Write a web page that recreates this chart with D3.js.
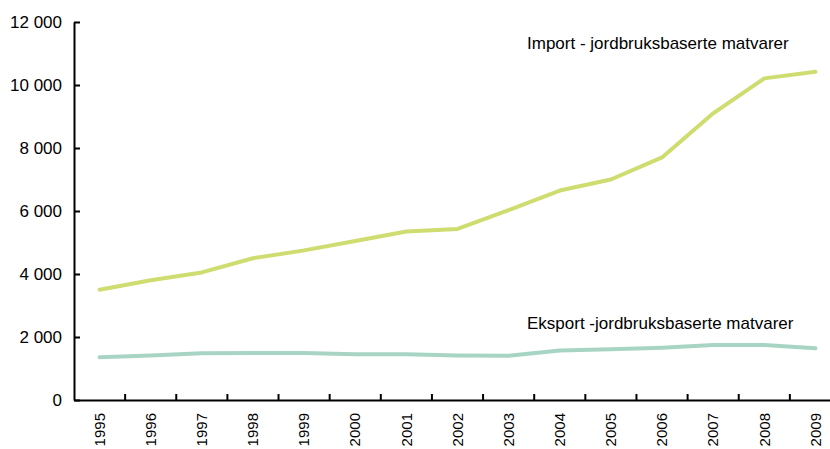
<!DOCTYPE html>
<html><head><meta charset="utf-8">
<script src="https://cdn.jsdelivr.net/npm/d3@7"></script>
<style>body{margin:0;background:#fff}svg{display:block}text{font-family:"Liberation Sans",Arial,sans-serif;fill:#000}</style>
</head><body><svg id="c" width="830" height="449"></svg>
<script>
const years = ["1995","1996","1997","1998","1999","2000","2001","2002","2003","2004","2005","2006","2007","2008","2009"];
const importValues = [3500,3800,4050,4500,4750,5050,5350,5430,6030,6650,7000,7700,9100,10210,10420];
const exportValues = [1360,1410,1485,1490,1490,1450,1450,1410,1405,1570,1610,1660,1745,1745,1645];
const yTicks = [0,2000,4000,6000,8000,10000,12000];
const seriesNames = ["Import - jordbruksbaserte matvarer","Eksport -jordbruksbaserte matvarer"];

const svg = d3.select("#c");
const x = d3.scaleBand().domain(years).range([74, 841]);
const y = d3.scaleLinear().domain([0,12000]).range([400, 22]);
const fmt = v => d3.format(",")(v).replace(/,/g, " ");

// y axis
const ya = svg.append("g").attr("transform","translate(74,0)")
  .call(d3.axisLeft(y).tickValues(yTicks).tickSize(-6).tickSizeOuter(0).tickPadding(12).tickFormat(fmt));
ya.attr("font-size",null).attr("font-family",null);
ya.select(".domain").attr("stroke","#000").attr("stroke-width",2);
ya.selectAll(".tick line").attr("stroke","#000").attr("stroke-width",2);
ya.selectAll("text").style("font-size","17px");

// x axis
const xa = svg.append("g").attr("transform","translate(0,400)")
  .call(d3.axisBottom(x).tickSize(0).tickSizeOuter(0));
xa.attr("font-size",null).attr("font-family",null);
xa.select(".domain").attr("stroke","#000").attr("stroke-width",2);
xa.selectAll("text").style("font-size","15px")
  .attr("transform","rotate(-90)").attr("text-anchor","end").attr("x",-13).attr("y",0).attr("dy","0.35em");
// tick marks between categories
const bounds = years.slice(1).map(yr => x(yr));
svg.append("g").selectAll("line").data(bounds).join("line")
  .attr("x1",d=>d).attr("x2",d=>d).attr("y1",400).attr("y2",394)
  .attr("stroke","#000").attr("stroke-width",2);

const line = d3.line().x((d,i)=>x(years[i])+x.bandwidth()/2).y(d=>y(d));
svg.append("path").datum(exportValues).attr("d",line).attr("fill","none")
  .attr("stroke","#a8d5c3").attr("stroke-width",4).attr("stroke-linejoin","round").attr("stroke-linecap","round");
svg.append("path").datum(importValues).attr("d",line).attr("fill","none")
  .attr("stroke","#cfdc70").attr("stroke-width",4).attr("stroke-linejoin","round").attr("stroke-linecap","round");

svg.append("text").attr("x",527).attr("y",49).style("font-size","17px").text(seriesNames[0]);
svg.append("text").attr("x",527).attr("y",329).style("font-size","17px").text(seriesNames[1]);
</script></body></html>
